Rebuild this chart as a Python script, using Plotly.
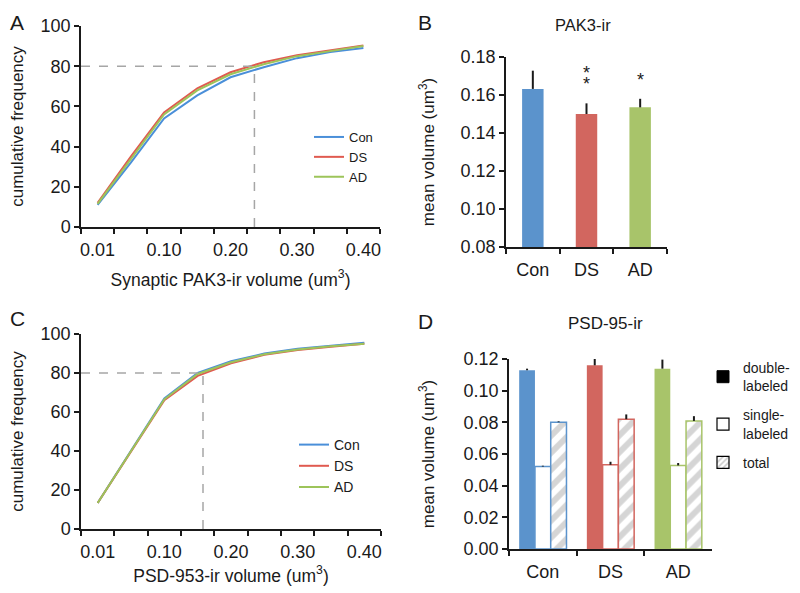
import numpy as np
import plotly.graph_objects as go

# ---- data ----
bins = ["0.01", "0.05", "0.10", "0.15", "0.20", "0.25", "0.30", "0.35", "0.40"]
bin_vals = [0.01, 0.05, 0.10, 0.15, 0.20, 0.25, 0.30, 0.35, 0.40]
bin_labels = ["0.01", "", "0.10", "", "0.20", "", "0.30", "", "0.40"]

pak3_con = [11, 32, 54, 65.5, 74.5, 79.5, 84, 87, 89]
pak3_ds = [12, 35, 57, 69, 77, 82, 85.5, 88, 90.3]
pak3_ad = [11.5, 34, 56, 68, 76, 81, 85, 87.5, 90]
pak3_cut80 = 0.236

psd_con = [13.3, 40, 67, 80, 86, 90, 92.5, 94, 95.5]
psd_ds = [13.3, 39.5, 66, 78.5, 85, 89.3, 91.8, 93.5, 95]
psd_ad = [13.3, 39.8, 66.5, 79.5, 85.5, 89.6, 92, 93.7, 95]
psd_cut80 = 0.158

groups = ["Con", "DS", "AD"]
pak3_mean = [0.1632, 0.1500, 0.1535]
pak3_err = [0.0096, 0.0056, 0.0045]
pak3_stars = [0, 2, 1]

psd_double = [0.1129, 0.1160, 0.1139]
psd_double_err = [0.0010, 0.0044, 0.0057]
psd_single = [0.0521, 0.0532, 0.0528]
psd_single_err = [0.0005, 0.0019, 0.0015]
psd_total = [0.0801, 0.0820, 0.0809]
psd_total_err = [0.0005, 0.0030, 0.0030]

line_colors = {"Con": "#4a8fd9", "DS": "#e05a50", "AD": "#9dc45a"}
bar_colors = ["#5b93cc", "#d2665f", "#a8c46a"]

FONT = "Liberation Sans, Arial, sans-serif"
INK = "#1a1a1a"

# page body has an 8px margin, so the figure is 792x585 placed at (8, 8)
W, H = 792, 585


def px(x):
    return (x - 8) / W


def py(y):
    return 1 - (y - 8) / H


fig = go.Figure()

# A / C cumulative curves
for name, ys in zip(groups, [pak3_con, pak3_ds, pak3_ad]):
    fig.add_trace(go.Scatter(x=bins, y=ys, mode="lines", name=name,
                             line=dict(color=line_colors[name], width=2),
                             xaxis="x", yaxis="y", legend="legend"))
for name, ys in zip(groups, [psd_con, psd_ds, psd_ad]):
    fig.add_trace(go.Scatter(x=bins, y=ys, mode="lines", name=name,
                             line=dict(color=line_colors[name], width=2),
                             xaxis="x3", yaxis="y3", legend="legend2"))

err_style = dict(type="data", symmetric=False, color=INK, thickness=2, width=0)

# B bars
fig.add_trace(go.Bar(x=groups, y=pak3_mean, width=0.4, showlegend=False,
                     marker=dict(color=bar_colors, line=dict(width=0)),
                     error_y=dict(err_style, array=pak3_err, arrayminus=[0, 0, 0]),
                     xaxis="x2", yaxis="y2"))

# D bars
bw = 0.233
stripes = dict(shape="/", fgcolor="#ababab", bgcolor="white", size=12, solidity=0.5)
fig.add_trace(go.Bar(x=groups, y=psd_double, width=bw, offset=-1.5 * bw, showlegend=False,
                     marker=dict(color=bar_colors, line=dict(width=0)),
                     error_y=dict(err_style, array=psd_double_err, arrayminus=[0, 0, 0]),
                     xaxis="x4", yaxis="y4"))
fig.add_trace(go.Bar(x=groups, y=psd_single, width=bw, offset=-0.5 * bw, showlegend=False,
                     marker=dict(color="white", line=dict(color=bar_colors, width=1.5)),
                     error_y=dict(err_style, array=psd_single_err, arrayminus=[0, 0, 0]),
                     xaxis="x4", yaxis="y4"))
fig.add_trace(go.Bar(x=groups, y=psd_total, width=bw, offset=0.5 * bw, showlegend=False,
                     marker=dict(color="white", line=dict(color=bar_colors, width=1.5),
                                 pattern=stripes),
                     error_y=dict(err_style, array=psd_total_err, arrayminus=[0, 0, 0]),
                     xaxis="x4", yaxis="y4"))

# D legend entries
fig.add_trace(go.Bar(x=[None], y=[None], name="double-<br>labeled", xaxis="x4", yaxis="y4",
                     legend="legend3", legendgroup="dbl",
                     marker=dict(color="black", line=dict(color="black", width=1))))
fig.add_trace(go.Bar(x=[None], y=[None], name="single-<br>labeled", xaxis="x4", yaxis="y4",
                     legend="legend3", legendgroup="sgl",
                     marker=dict(color="white", line=dict(color="black", width=1.2))))
fig.add_trace(go.Bar(x=[None], y=[None], name="total", xaxis="x4", yaxis="y4",
                     legend="legend3", legendgroup="tot",
                     marker=dict(color="white", line=dict(color="black", width=1.2),
                                 pattern=dict(shape="/", fgcolor="#999999", bgcolor="white",
                                              size=5, solidity=0.4))))

axis = dict(showline=True, linecolor=INK, linewidth=1.5, ticks="outside", ticklen=5,
            tickwidth=1.5, tickcolor=INK, showgrid=False, zeroline=False, automargin=False,
            tickfont=dict(size=18, color=INK), title_font=dict(size=17.5, color=INK))
xax = dict(axis, ticklabelstandoff=6)
yax = dict(axis, title_font=dict(size=17, color=INK))

cat_x = dict(xax, type="category", tickmode="array", tickvals=bins, ticktext=bin_labels,
             tickson="boundaries", range=[-0.5, 8.5], tickangle=0)

fig.update_layout(
    xaxis=dict(cat_x, domain=[px(81), px(380)], anchor="y",
               title=dict(text="Synaptic PAK3-ir volume (um<sup>3</sup>)", standoff=14)),
    yaxis=dict(yax, domain=[py(227), py(26)], anchor="x", range=[0, 100], dtick=20,
               title=dict(text="cumulative frequency", standoff=17)),
    xaxis3=dict(cat_x, domain=[px(81), px(381)], anchor="y3",
                title=dict(text="PSD-953-ir volume (um<sup>3</sup>)", standoff=8)),
    yaxis3=dict(yax, domain=[py(529), py(334)], anchor="x3", range=[0, 100], dtick=20,
                title=dict(text="cumulative frequency", standoff=17)),
    xaxis2=dict(xax, type="category", tickson="boundaries", domain=[px(506), px(667)],
                anchor="y2", range=[-0.5, 2.5]),
    yaxis2=dict(yax, domain=[py(247), py(57)], anchor="x2", range=[0.08, 0.18], dtick=0.02,
                tickformat=".2f", title=dict(text="mean volume (um<sup>3</sup>)", standoff=22)),
    xaxis4=dict(xax, type="category", tickson="boundaries", domain=[px(509), px(712)],
                anchor="y4", range=[-0.5, 2.5]),
    yaxis4=dict(yax, domain=[py(549), py(359)], anchor="x4", range=[0, 0.12], dtick=0.02,
                tickformat=".2f", title=dict(text="mean volume (um<sup>3</sup>)", standoff=25)),
    barmode="overlay",
    legend=dict(x=px(309), y=py(122), xanchor="left", yanchor="top",
                font=dict(size=13, color=INK), bgcolor="rgba(0,0,0,0)", tracegroupgap=0),
    legend2=dict(x=px(294), y=py(429), xanchor="left", yanchor="top",
                 font=dict(size=14, color=INK), bgcolor="rgba(0,0,0,0)", tracegroupgap=0),
    legend3=dict(x=px(703), y=py(352), xanchor="left", yanchor="top",
                 font=dict(size=14, color=INK), bgcolor="rgba(0,0,0,0)", itemwidth=30,
                 tracegroupgap=8),
    font=dict(family=FONT, color=INK),
    width=W, height=H, margin=dict(l=0, r=0, t=0, b=0, autoexpand=False),
    plot_bgcolor="white", paper_bgcolor="white",
)

# dashed 80% guides
def cat_pos(v):
    return float(np.interp(v, bin_vals, np.arange(len(bin_vals))))


for xa, ya, cut in [("x", "y", pak3_cut80), ("x3", "y3", psd_cut80)]:
    xi = cat_pos(cut)
    dash = dict(color="#a6a6a6", width=1.5, dash="dash")
    fig.add_shape(type="line", xref=xa, yref=ya, x0=-0.5, x1=xi, y0=80, y1=80, line=dash)
    fig.add_shape(type="line", xref=xa, yref=ya, x0=xi, x1=xi, y0=0, y1=80, line=dash)

# significance stars
for g, m, e, n in zip(groups, pak3_mean, pak3_err, pak3_stars):
    for i in range(n):
        fig.add_annotation(x=g, y=m + e, xref="x2", yref="y2", text="*", showarrow=False,
                           xanchor="center", yanchor="middle", yshift=19 + 11 * i,
                           font=dict(size=18, color=INK))

# panel letters and titles
for txt, x, y in [("A", 17, 22), ("B", 425, 22), ("C", 17, 318), ("D", 425, 321)]:
    fig.add_annotation(text=txt, x=px(x), y=py(y), xref="paper", yref="paper", showarrow=False,
                       xanchor="center", yanchor="middle", font=dict(size=21, color=INK))
fig.add_annotation(text="PAK3-ir", x=px(583), y=py(25), xref="paper", yref="paper",
                   xanchor="center", yanchor="middle",
                   showarrow=False, font=dict(size=16.5, color=INK))
fig.add_annotation(text="PSD-95-ir", x=px(605), y=py(323), xref="paper", yref="paper",
                   xanchor="center", yanchor="middle",
                   showarrow=False, font=dict(size=17, color=INK))

fig.write_html("out.html")
